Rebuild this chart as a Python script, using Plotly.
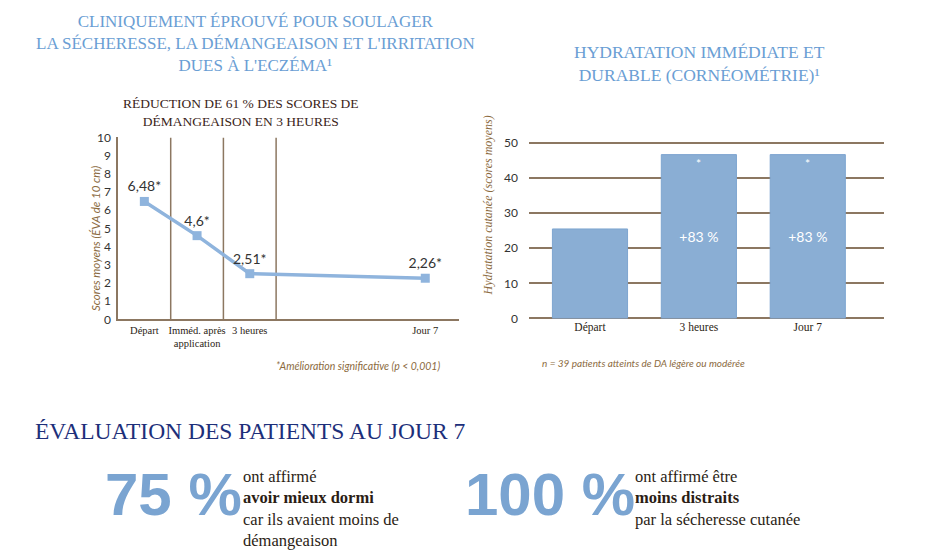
import plotly.graph_objects as go

W, H = 929, 555

# ---------------- data ----------------
itch_categories = ["Départ", "Imméd. après<br>application", "3 heures", "Jour 7"]
itch_scores = [6.48, 4.6, 2.51, 2.26]
itch_yticks = list(range(0, 11))

hyd_categories = ["Départ", "3 heures", "Jour 7"]
hyd_scores = [25.5, 46.7, 46.7]
hyd_yticks = [0, 10, 20, 30, 40, 50]

eval_percents = [75, 100]
eval_lines = [
    ["ont affirmé", "<b>avoir mieux dormi</b>", "car ils avaient moins de", "démangeaison"],
    ["ont affirmé être", "<b>moins distraits</b>", "par la sécheresse cutanée"],
]

# ---------------- layout positions / styles ----------------
itch_x = [0.5, 1.5, 2.5, 5.83]       # horizontal placement of the time points
itch_dividers = [1, 2, 3]
BLUE_LINE = "#8fb4dd"
BAR = "#8aaed4"
BROWN = "#8c7761"
AXT = "#8b6a3e"
TITLE_BLUE = "#6a9ed4"
NAVY = "#1d2f7a"
DARK = "#2b1d14"
SERIF = "Liberation Serif"
SANS = "Lato"


def px(x):
    return x / W


def py(y):
    return 1 - y / H


def fmt(v):
    return f"{v:g}".replace(".", ",") + "*"


fig = go.Figure()

# left line chart
fig.add_trace(go.Scatter(
    x=itch_x, y=itch_scores, mode="lines+markers+text",
    line=dict(color=BLUE_LINE, width=3.5),
    marker=dict(symbol="square", size=9, color=BLUE_LINE),
    text=[fmt(v) for v in itch_scores], textposition="top center",
    textfont=dict(family=SANS, size=14, color="#333333"),
    xaxis="x", yaxis="y", showlegend=False, cliponaxis=False,
))

# right bar chart
base = hyd_scores[0]
bar_text = [""] + [f"+{round((v / base - 1) * 100)} %" for v in hyd_scores[1:]]
fig.add_trace(go.Bar(
    x=hyd_categories, y=hyd_scores, width=0.69,
    marker=dict(color=BAR, line=dict(color="#7ea5d0", width=1)),
    text=bar_text, textposition="inside", insidetextanchor="middle",
    textfont=dict(family=SANS, size=14, color="white"),
    xaxis="x2", yaxis="y2", showlegend=False,
))

shapes = []
for d in itch_dividers:
    shapes.append(dict(type="line", xref="x", yref="y", x0=d, x1=d, y0=0, y1=10,
                       line=dict(color=BROWN, width=1.5), layer="below"))

annotations = []
# titles
annotations.append(dict(
    x=px(256), y=py(37), xref="paper", yref="paper", xanchor="center", yanchor="middle",
    text="CLINIQUEMENT ÉPROUVÉ POUR SOULAGER<br>LA SÉCHERESSE, LA DÉMANGEAISON ET L'IRRITATION<br>DUES À L'ECZÉMA¹",
    showarrow=False, align="center", font=dict(family=SERIF, size=17, color=TITLE_BLUE)))
annotations.append(dict(
    x=px(241), y=py(107), xref="paper", yref="paper", xanchor="center", yanchor="middle",
    text="RÉDUCTION DE 61 % DES SCORES DE<br>DÉMANGEAISON EN 3 HEURES",
    showarrow=False, align="center", font=dict(family=SERIF, size=13.5, color="#3a2418")))
annotations.append(dict(
    x=px(699), y=py(57), xref="paper", yref="paper", xanchor="center", yanchor="middle",
    text="HYDRATATION IMMÉDIATE ET<br>DURABLE (CORNÉOMÉTRIE)¹",
    showarrow=False, align="center", font=dict(family=SERIF, size=17.5, color=TITLE_BLUE)))

# axis titles
annotations.append(dict(
    x=px(87), y=py(237), xref="paper", yref="paper", textangle=-90,
    text="<i>Scores moyens (ÉVA de 10 cm)</i>", showarrow=False,
    font=dict(family=SANS, size=11.5, color=AXT)))
annotations.append(dict(
    x=px(488), y=py(203), xref="paper", yref="paper", textangle=-90,
    text="<i>Hydratation cutanée (scores moyens)</i>", showarrow=False,
    font=dict(family=SERIF, size=12, color=AXT)))

# footnotes
annotations.append(dict(
    x=px(442), y=py(368), xref="paper", yref="paper", xanchor="right",
    text="<i>*Amélioration significative (p < 0,001)</i>", showarrow=False,
    font=dict(family=SANS, size=10.5, color=AXT)))
annotations.append(dict(
    x=px(540), y=py(365), xref="paper", yref="paper", xanchor="left",
    text="<i>n = 39 patients atteints de DA légère ou modérée</i>", showarrow=False,
    font=dict(family=SANS, size=10, color=AXT)))

# stars on bars
for c, v in zip(hyd_categories[1:], hyd_scores[1:]):
    annotations.append(dict(x=c, y=v - 2.5, xref="x2", yref="y2", text="*", showarrow=False,
                            font=dict(family=SANS, size=12, color="white")))

# bottom section
annotations.append(dict(
    x=px(33), y=py(435), xref="paper", yref="paper", xanchor="left", yanchor="middle",
    text="ÉVALUATION DES PATIENTS AU JOUR 7", showarrow=False,
    font=dict(family=SERIF, size=23.5, color=NAVY)))

big_centers = [173, 550]
text_left = [241, 633]
for pct, lines, cx, tx in zip(eval_percents, eval_lines, big_centers, text_left):
    annotations.append(dict(
        x=px(cx), y=py(500), xref="paper", yref="paper", xanchor="center", yanchor="middle",
        text=f"{pct} %", showarrow=False,
        font=dict(family="Liberation Sans", size=60, color="#7aa4d1", weight=700)))
    annotations.append(dict(
        x=px(tx), y=py(470), xref="paper", yref="paper", xanchor="left", yanchor="top",
        text="<br>".join(lines), showarrow=False, align="left",
        font=dict(family=SERIF, size=16.5, color=DARK)))

fig.update_layout(
    width=W, height=H, autosize=False,
    margin=dict(l=0, r=0, t=0, b=0),
    paper_bgcolor="white", plot_bgcolor="white",
    shapes=shapes, annotations=annotations,
    xaxis=dict(domain=[px(118), px(459)], range=[0, 6.47], tickvals=itch_x, ticktext=itch_categories,
               showgrid=False, zeroline=False, showline=True, linecolor=BROWN, linewidth=1.5,
               ticks="", tickangle=0, tickfont=dict(family=SERIF, size=10.5, color=DARK),
               anchor="y", fixedrange=True),
    yaxis=dict(domain=[py(320), py(133)], range=[0, 10], tickvals=itch_yticks,
               showgrid=False, zeroline=False, showline=True, linecolor=BROWN, linewidth=1.5,
               ticks="", tickfont=dict(family=SANS, size=12, color="#333333"), anchor="x",
               ticklabelstandoff=3),
    xaxis2=dict(domain=[px(529), px(884)], range=[-0.56, 2.70], type="category",
                showgrid=False, zeroline=False, showline=False, ticks="", tickangle=0,
                tickfont=dict(family=SERIF, size=11.5, color=DARK), anchor="y2"),
    yaxis2=dict(domain=[py(319), py(137)], range=[0, 50.5], tickvals=hyd_yticks,
                showgrid=True, gridcolor=BROWN, gridwidth=1.5, zeroline=True, zerolinecolor=BROWN,
                zerolinewidth=1.5, showline=False, ticks="",
                tickfont=dict(family=SANS, size=12, color="#333333"), anchor="x2",
                ticklabelstandoff=10),
    bargap=0.3,
)

fig.write_html("out.html")
